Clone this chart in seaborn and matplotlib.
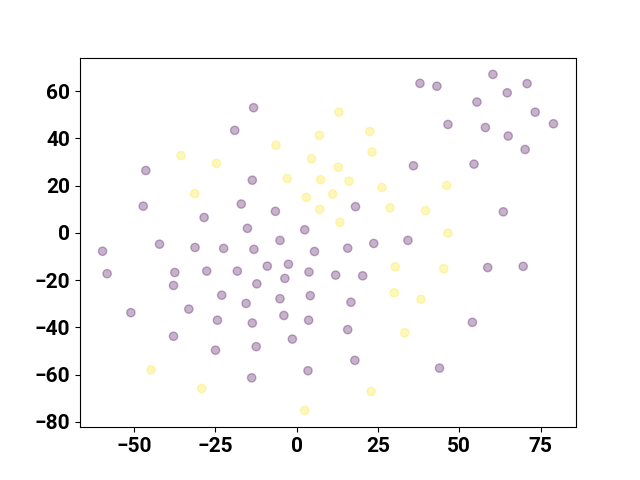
import numpy as np
import pandas as pd
import matplotlib
matplotlib.use("Agg")
import matplotlib.pyplot as plt
import seaborn as sns

# class 0 (purple)
purple_x = [-13.2, -19.0, -46.3, -13.6, -47.1, -17.0, -6.5, -28.4, -15.1, 2.5,
            -5.1, -42.1, -31.2, 60.3, 37.9, 43.1, 70.8, 64.7, 55.4, 73.3,
            46.5, 58.0, 78.9, 65.0, 70.2, 35.9, 54.5, 18.1, 63.5, 23.7,
            34.2, -59.6, -22.4, -13.1, 5.5, -58.2, -37.4, -27.6, -18.2, -9.0,
            -2.5, 3.8, -37.8, -12.2, -3.6, -23.0, -15.5, -5.1, 4.2, -50.9,
            -33.1, -24.3, -13.6, -3.9, 3.7, -37.8, -1.3, -24.9, -12.4, -13.8,
            3.5, 15.7, 12.0, 20.3, 58.7, 69.6, 16.7, 54.0, 15.7, 17.9, 43.9]
purple_y = [53.0, 43.4, 26.4, 22.3, 11.3, 12.2, 9.1, 6.5, 1.9, 1.3,
            -3.2, -4.8, -6.2, 67.1, 63.3, 62.1, 63.2, 59.3, 55.4, 51.1,
            45.9, 44.6, 46.2, 41.0, 35.3, 28.4, 29.1, 11.1, 8.9, -4.5,
            -3.2, -7.8, -6.6, -7.0, -7.9, -17.3, -16.8, -16.2, -16.2, -14.1,
            -13.3, -16.6, -22.3, -21.6, -19.3, -26.4, -29.9, -27.9, -26.6, -33.8,
            -32.3, -37.0, -38.2, -35.0, -37.0, -43.8, -45.0, -49.7, -48.2, -61.4,
            -58.4, -6.5, -17.9, -18.2, -14.7, -14.2, -29.4, -37.9, -41.0, -54.0, -57.3]

# class 1 (yellow)
yellow_x = [7.0, -6.3, 4.6, -35.5, -24.6, -2.9, 7.4, -31.3, 3.0, 11.1,
            7.1, 13.0, 22.5, 23.2, 12.8, 16.1, 26.2, 46.1, 28.7, 39.6,
            13.3, 46.5, -44.7, -29.1, 2.5, 30.3, 45.2, 30.0, 38.2, 33.2, 22.9]
yellow_y = [41.3, 37.1, 31.4, 32.7, 29.4, 23.0, 22.5, 16.6, 15.0, 16.4,
            9.9, 51.1, 42.9, 34.2, 27.8, 21.9, 19.2, 20.1, 10.6, 9.4,
            4.4, -0.1, -58.0, -65.9, -75.2, -14.4, -15.2, -25.4, -28.2, -42.3, -67.2]

df = pd.DataFrame({
    "x": purple_x + yellow_x,
    "y": purple_y + yellow_y,
    "label": [0] * len(purple_x) + [1] * len(yellow_x),
})

plt.rcParams["font.family"] = ["Roboto", "DejaVu Sans"]
plt.rcParams["font.weight"] = "bold"
plt.rcParams["font.size"] = 15

fig, ax = plt.subplots(figsize=(6.4, 4.8), dpi=100)
sns.scatterplot(data=df, x="x", y="y", hue="label",
                palette={0: "#440154", 1: "#fde725"},
                alpha=0.3, s=36, edgecolor="face", linewidth=1,
                legend=False, ax=ax)
ax.set_xlabel("")
ax.set_ylabel("")
for lbl in ax.get_xticklabels() + ax.get_yticklabels():
    lbl.set_fontweight("bold")

fig.savefig("out.png", dpi=100)
